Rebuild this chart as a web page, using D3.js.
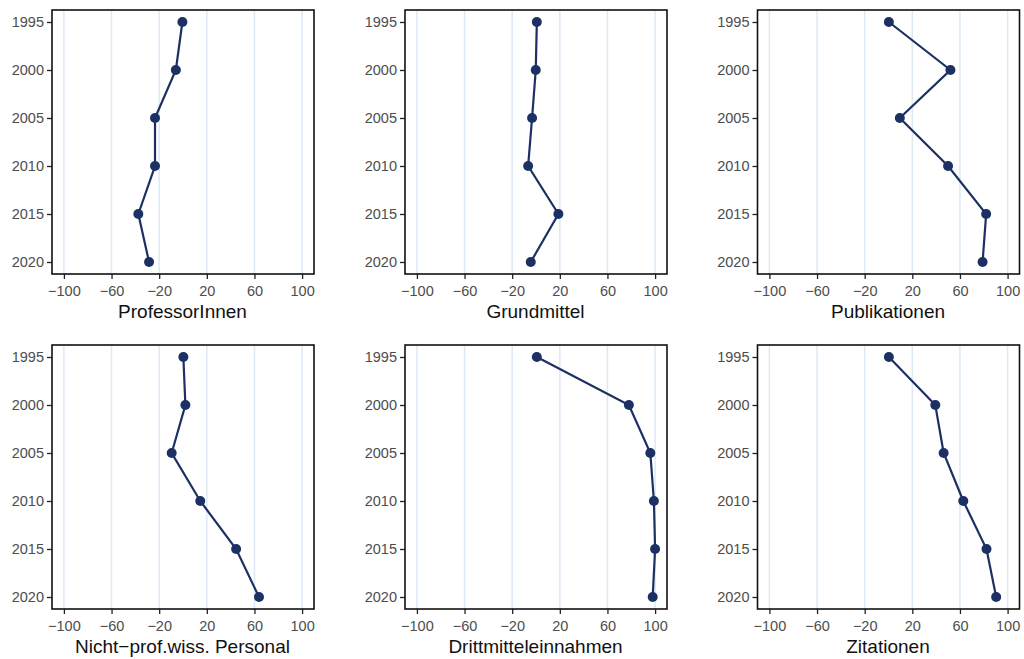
<!DOCTYPE html>
<html>
<head>
<meta charset="utf-8">
<script src="https://cdn.jsdelivr.net/npm/d3@7"></script>
<style>
  body { margin: 0; background: #fff; }
  svg { display: block; font-family: "Liberation Sans", Arial, sans-serif; }
</style>
</head>
<body>
<svg></svg>
<script>
var years = [1995, 2000, 2005, 2010, 2015, 2020];
var xTicks = [-100, -60, -20, 20, 60, 100];

var professorinnen = [-0.5, -6, -23.5, -23.5, -37.5, -28.5];
var grundmittel = [0.7, -0.2, -3.3, -6.6, 18.8, -4.4];
var publikationen = [0.3, 52, 9.5, 50, 82, 79];
var nichtProf = [0.3, 2, -9.5, 14.5, 44.6, 63.8];
var drittmittel = [0.7, 78, 96, 99, 100, 98];
var zitationen = [0.3, 39.3, 46.3, 62.8, 82.3, 90.4];

var titles = ["ProfessorInnen", "Grundmittel", "Publikationen",
  "Nicht\u2212prof.wiss. Personal", "Drittmitteleinnahmen", "Zitationen"];
var series = [professorinnen, grundmittel, publikationen,
  nichtProf, drittmittel, zitationen];

var width = 1024,
  height = 659,
  panelW = 262,
  panelH = 264,
  lefts = [52, 405, 757.5],
  tops = [10, 345];

var navy = "#1c3064";

var svg = d3.select("svg").attr("width", width).attr("height", height);

var x = d3.scaleLinear().domain([-110, 110]).range([0, panelW]);
var y = d3.scaleLinear().domain([1993.75, 2021.25]).range([0, panelH]);

var line = d3.line()
  .x(function (d) { return x(d.v); })
  .y(function (d) { return y(d.year); });

series.forEach(function (vals, i) {
  var g = svg.append("g")
    .attr("transform", "translate(" + lefts[i % 3] + "," + tops[Math.floor(i / 3)] + ")");

  var pts = years.map(function (yr, j) { return { year: yr, v: vals[j] }; });

  // vertical grid
  g.selectAll(".grid")
    .data(xTicks)
    .join("line")
    .attr("x1", x).attr("x2", x)
    .attr("y1", 0).attr("y2", panelH)
    .attr("stroke", "#dde9f5")
    .attr("stroke-width", 1.5);

  g.append("path")
    .datum(pts)
    .attr("d", line)
    .attr("fill", "none")
    .attr("stroke", navy)
    .attr("stroke-width", 2.2);

  g.selectAll(".pt")
    .data(pts)
    .join("circle")
    .attr("cx", function (d) { return x(d.v); })
    .attr("cy", function (d) { return y(d.year); })
    .attr("r", 5)
    .attr("fill", navy);

  var xAxis = g.append("g")
    .attr("transform", "translate(0," + panelH + ")")
    .call(d3.axisBottom(x).tickValues(xTicks).tickSize(5).tickPadding(6.5));
  var yAxis = g.append("g")
    .call(d3.axisLeft(y).tickValues(years).tickFormat(d3.format("d")).tickSize(5).tickPadding(3));

  [xAxis, yAxis].forEach(function (ax) {
    ax.select(".domain").remove();
    ax.selectAll("line").attr("stroke", "#222").attr("stroke-width", 1.3);
    ax.selectAll("text").attr("fill", "#4d4d4d").attr("font-size", "14.5px")
      .attr("font-family", "Liberation Sans, Arial, sans-serif");
  });

  g.append("rect")
    .attr("width", panelW).attr("height", panelH)
    .attr("fill", "none")
    .attr("stroke", "#111")
    .attr("stroke-width", 1.6);

  g.append("text")
    .attr("x", panelW / 2 - 0.5)
    .attr("y", panelH + 44)
    .attr("text-anchor", "middle")
    .attr("font-size", "19px")
    .attr("fill", "#111")
    .text(titles[i]);
});
</script>
</body>
</html>
